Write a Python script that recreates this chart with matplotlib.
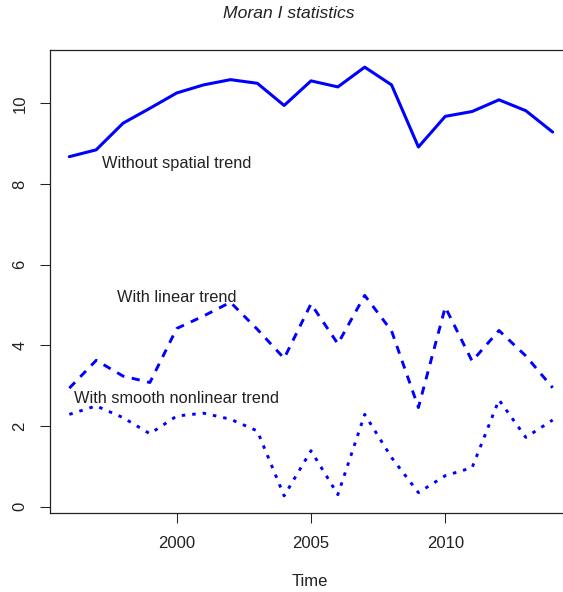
import matplotlib
matplotlib.use("Agg")
from matplotlib import pyplot as plt
import numpy as np

plt.rcParams['font.family'] = ['Liberation Sans', 'DejaVu Sans']

years = np.arange(1996, 2015)

# Moran I per year for the three model variants
no_trend = [8.68, 8.85, 9.51, 9.88, 10.26, 10.46, 10.59, 10.50, 9.95, 10.56,
            10.41, 10.90, 10.46, 8.92, 9.68, 9.80, 10.09, 9.82, 9.29]
linear_trend = [2.94, 3.63, 3.24, 3.08, 4.42, 4.73, 5.07, 4.40, 3.68, 5.03,
                4.04, 5.24, 4.36, 2.46, 4.95, 3.61, 4.37, 3.74, 2.95]
smooth_trend = [2.29, 2.50, 2.21, 1.81, 2.25, 2.32, 2.17, 1.88, 0.27, 1.39,
                0.30, 2.29, 1.22, 0.35, 0.77, 0.97, 2.65, 1.72, 2.15]

labels = ["Without spatial trend", "With linear trend", "With smooth nonlinear trend"]
label_y = [8.5, 5.2, 2.68]

W, H = 563, 592
fig = plt.figure(figsize=(W / 100, H / 100), dpi=100)
# plot region runs past the right edge of the image
ax = fig.add_axes([50 / W, 79 / H, 522 / W, 463 / H])

blue = "#0000FF"
ax.plot(years, no_trend, color=blue, lw=2.2, solid_capstyle='round')
ax.plot(years, linear_trend, color=blue, lw=2.1, dashes=(2.8, 2.6))
ax.plot(years, smooth_trend, color=blue, lw=2.1, dashes=(1.2, 2.4))

for txt, yv in zip(labels, label_y):
    ax.text(2000, yv, txt, ha='center', va='center', fontsize=11.8, color='#222222')

xr = years[-1] - years[0]
ax.set_xlim(years[0] - 0.04 * xr, years[-1] + 0.04 * xr)
lo, hi = 0.27, 10.90
ax.set_ylim(lo - 0.04 * (hi - lo), hi + 0.04 * (hi - lo))

ax.set_xticks([2000, 2005, 2010])
ax.set_yticks([0, 2, 4, 6, 8, 10])
ax.tick_params(length=7.2, width=0.75, color='#222222', labelsize=12,
               labelcolor='#222222', pad=9)
for lab in ax.get_yticklabels():
    lab.set_rotation(90)
    lab.set_va('center')
for sp in ax.spines.values():
    sp.set_linewidth(0.9)
    sp.set_color('#222222')

fig.text(310 / W, 1 - 581.7 / H, "Time", ha='center', va='center', fontsize=12,
         color='#222222')
fig.text(288.5 / W, 1 - 13 / H, "Moran I statistics", ha='center', va='center',
         fontsize=12.6, style='italic', color='#222222')

fig.savefig("out.png", dpi=100)
